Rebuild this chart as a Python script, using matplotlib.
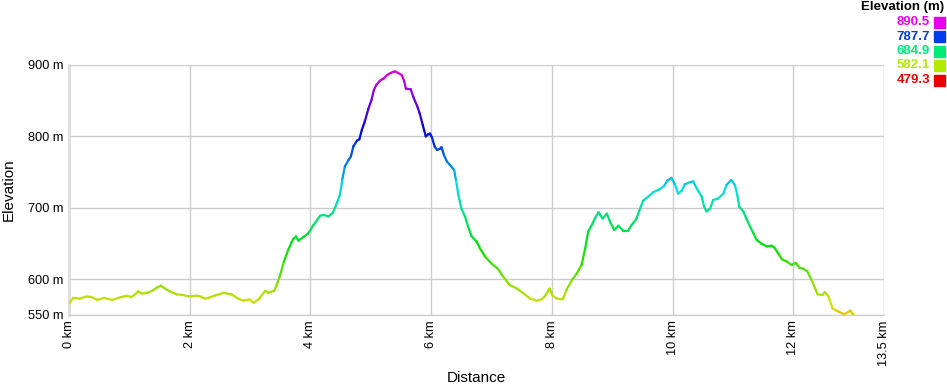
"""Elevation profile with the line coloured by height."""
import colorsys

import matplotlib

matplotlib.use("Agg")
import matplotlib.pyplot as plt  # noqa: E402
import numpy as np  # noqa: E402
from matplotlib.collections import LineCollection  # noqa: E402

plt.rcParams["font.family"] = ["Liberation Sans", "DejaVu Sans"]

# profile (km, m)
distance_km = [
    0.00, 0.07, 0.18, 0.29, 0.38, 0.47, 0.58, 0.71, 0.82, 0.96, 1.03, 1.08,
    1.15, 1.21, 1.29, 1.38, 1.45, 1.52, 1.59, 1.67, 1.78, 1.89, 1.98, 2.12,
    2.17, 2.25, 2.31, 2.41, 2.56, 2.69, 2.80, 2.89, 2.99, 3.06, 3.15, 3.25,
    3.30, 3.40, 3.44, 3.49, 3.56, 3.63, 3.71, 3.76, 3.80, 3.88, 3.96, 4.05,
    4.16, 4.22, 4.30, 4.37, 4.43, 4.49, 4.53, 4.57, 4.63, 4.67, 4.71, 4.77,
    4.81, 4.85, 4.90, 4.96, 5.01, 5.05, 5.09, 5.15, 5.21, 5.27, 5.33, 5.40,
    5.45, 5.51, 5.55, 5.58, 5.66, 5.70, 5.77, 5.81, 5.86, 5.91, 5.95, 5.98,
    6.01, 6.06, 6.10, 6.15, 6.17, 6.21, 6.26, 6.32, 6.38, 6.41, 6.45, 6.50,
    6.56, 6.61, 6.67, 6.75, 6.81, 6.89, 7.00, 7.10, 7.19, 7.30, 7.42, 7.53,
    7.64, 7.75, 7.83, 7.88, 7.96, 8.01, 8.08, 8.18, 8.24, 8.33, 8.41, 8.49,
    8.55, 8.60, 8.66, 8.71, 8.77, 8.84, 8.91, 8.96, 9.03, 9.10, 9.18, 9.26,
    9.32, 9.40, 9.46, 9.51, 9.60, 9.68, 9.78, 9.86, 9.91, 9.98, 10.04, 10.09,
    10.15, 10.20, 10.29, 10.34, 10.40, 10.48, 10.52, 10.56, 10.62, 10.67,
    10.75, 10.84, 10.89, 10.97, 11.03, 11.07, 11.10, 11.17, 11.22, 11.28,
    11.34, 11.39, 11.47, 11.56, 11.64, 11.69, 11.75, 11.81, 11.89, 11.97,
    12.04, 12.10, 12.16, 12.23, 12.30, 12.40, 12.48, 12.52, 12.58, 12.65,
    12.74, 12.84, 12.94, 13.00,
]
elevation_m = [
    566, 574, 573, 576, 575, 571, 574, 571, 574, 577, 575, 578,
    583, 580, 581, 584, 588, 591, 587, 583, 579, 578, 576, 577,
    576, 573, 574, 577, 581, 579, 573, 570, 572, 567, 573, 584,
    581, 584, 592, 604, 625, 641, 656, 660, 654, 659, 664, 676,
    689, 690, 688, 693, 705, 719, 741, 758, 767, 772, 786, 794,
    796, 809, 821, 839, 851, 865, 872, 878, 881, 886, 889, 891,
    889, 886, 878, 867, 866, 856, 842, 832, 816, 800, 803, 804,
    799, 785, 781, 783, 785, 774, 765, 759, 753, 739, 718, 699,
    688, 674, 660, 653, 643, 632, 622, 615, 604, 592, 587, 580,
    573, 570, 572, 576, 587, 577, 573, 572, 585, 599, 608, 620,
    643, 667, 676, 685, 694, 685, 692, 681, 669, 675, 668, 668,
    676, 685, 699, 710, 716, 722, 726, 731, 738, 742, 732, 720,
    724, 733, 736, 737, 727, 716, 702, 695, 699, 711,
    713, 720, 732, 739, 732, 718, 702, 695, 685, 674,
    664, 655, 650, 646, 647, 644, 636, 628, 625, 620,
    623, 616, 615, 611, 599, 579, 578, 582, 576, 559,
    555, 551, 556, 550,
]

x_ticks = [0, 2, 4, 6, 8, 10, 12, 13.5]
x_tick_labels = ["0 km", "2 km", "4 km", "6 km", "8 km", "10 km", "12 km", "13.5 km"]
y_ticks = [550, 600, 700, 800, 900]
y_tick_labels = ["550 m", "600 m", "700 m", "800 m", "900 m"]
legend_values = [890.5, 787.7, 684.9, 582.1, 479.3]

E_MIN, E_MAX = 479.3, 890.5
GRID = "#cccccc"


def height_colour(e, value=1.0):
    frac = (e - E_MIN) / (E_MAX - E_MIN)
    frac = min(max(frac, 0.0), 1.0)
    return colorsys.hsv_to_rgb(frac * 300.0 / 360.0, 1.0, value)


fig = plt.figure(figsize=(9.47, 3.86), dpi=100)
ax = fig.add_axes([69 / 947, 1 - 315 / 386, 815 / 947, 250 / 386])

x = np.array(distance_km)
y = np.array(elevation_m)
pts = np.column_stack([x, y]).reshape(-1, 1, 2)
segs = np.concatenate([pts[:-1], pts[1:]], axis=1)
seg_cols = [height_colour((a + b) / 2, 0.88) for a, b in zip(y[:-1], y[1:])]
lc = LineCollection(segs, colors=seg_cols, linewidths=1.6, capstyle="round", zorder=3)
ax.add_collection(lc)

ax.set_xlim(0, 13.5)
ax.set_ylim(550, 900)
ax.set_xticks(x_ticks)
ax.set_xticklabels(x_tick_labels, rotation=90, fontsize=9.2)
ax.set_yticks(y_ticks)
ax.set_yticklabels(y_tick_labels, fontsize=9.2)
ax.tick_params(length=0, pad=4)
ax.grid(True, color=GRID, linewidth=1.0, zorder=0)

for side in ("top", "right"):
    ax.spines[side].set_visible(False)
ax.spines["bottom"].set_color(GRID)
ax.spines["left"].set_color("#dddddd")
ax.spines["left"].set_linewidth(2.0)

ax.set_ylabel("Elevation", fontsize=11)
ax.yaxis.set_label_coords(-0.065, 0.5)
ax.set_xlabel("Distance", fontsize=11)
ax.xaxis.set_label_coords(0.5, -0.225)

# colour key, top right
fig.text(903 / 947, 1 - 7 / 386, "Elevation (m)", ha="center", va="center",
         fontsize=9.5, fontweight="bold")
for i, val in enumerate(legend_values):
    yy = 1 - (22 + i * 14.5) / 386
    col = height_colour(val, 0.92)
    fig.text(930 / 947, yy, f"{val:.1f}", ha="right", va="center",
             fontsize=9.5, fontweight="bold", color=col)
    fig.patches.append(plt.Rectangle((934 / 947, yy - 5.5 / 386), 11 / 947, 11 / 386,
                                     transform=fig.transFigure, color=col))

fig.savefig("out.png", dpi=100)
